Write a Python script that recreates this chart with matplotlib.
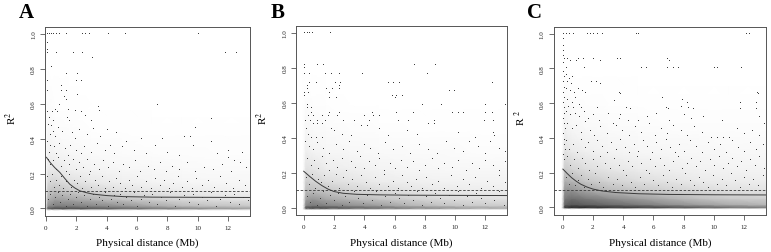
"""LD decay (R^2 vs physical distance) for three panels, A-C."""

import matplotlib.pyplot as plt
import numpy as np

plt.rcParams["font.family"] = ["Liberation Serif", "DejaVu Serif"]
plt.rcParams["mathtext.fontset"] = "stix"

# ---------------------------------------------------------------------------
# Plot settings
# ---------------------------------------------------------------------------
STYLE = {
    "fig_size":       (7.71, 2.53),
    "dpi":            100,
    "dot_color":      "#3c3c3c",
    "curve_color":    "#3a3a3a",
    "frame_color":    "#555555",
    "tick_size":      5,
    "label_size":     8,
    "letter_size":    15,
}

# ---------------------------------------------------------------------------
# Data
# ---------------------------------------------------------------------------

# background density of the dense point cloud (0 = white, 1 = black)
HAZE_X = [-0.05, 0.15, 0.6, 1.5, 3, 5, 7, 9, 11, 13.45]
HAZE_Y = [-0.01, 0.0, 0.015, 0.05, 0.1, 0.15, 0.22, 0.32, 0.45, 0.6, 0.8]

HAZE_A = [
    [0, 0, 0, 0, 0, 0, 0, 0, 0, 0],
    [0, 0.70, 0.75, 0.75, 0.72, 0.66, 0.60, 0.55, 0.50, 0.46],
    [0, 0.52, 0.58, 0.58, 0.55, 0.50, 0.44, 0.38, 0.35, 0.33],
    [0, 0.42, 0.48, 0.46, 0.42, 0.36, 0.31, 0.26, 0.23, 0.20],
    [0, 0.33, 0.36, 0.32, 0.27, 0.21, 0.17, 0.15, 0.13, 0.11],
    [0, 0.25, 0.27, 0.22, 0.17, 0.13, 0.10, 0.085, 0.075, 0.065],
    [0, 0.17, 0.17, 0.13, 0.10, 0.075, 0.065, 0.05, 0.045, 0.04],
    [0, 0.11, 0.09, 0.065, 0.045, 0.035, 0.03, 0.025, 0.02, 0.02],
    [0, 0.06, 0.035, 0.025, 0.015, 0.012, 0.008, 0.008, 0.008, 0.008],
    [0, 0.025, 0.012, 0.008, 0, 0, 0, 0, 0, 0],
    [0, 0, 0, 0, 0, 0, 0, 0, 0, 0],
]

HAZE_B = [
    [0, 0, 0, 0, 0, 0, 0, 0, 0, 0],
    [0, 0.75, 0.78, 0.76, 0.70, 0.64, 0.57, 0.52, 0.46, 0.43],
    [0, 0.56, 0.60, 0.56, 0.52, 0.47, 0.40, 0.35, 0.31, 0.30],
    [0, 0.47, 0.50, 0.45, 0.40, 0.35, 0.30, 0.25, 0.23, 0.21],
    [0, 0.37, 0.37, 0.33, 0.27, 0.23, 0.19, 0.16, 0.15, 0.14],
    [0, 0.30, 0.27, 0.23, 0.19, 0.15, 0.13, 0.11, 0.10, 0.10],
    [0, 0.21, 0.19, 0.15, 0.13, 0.10, 0.08, 0.07, 0.065, 0.065],
    [0, 0.13, 0.10, 0.075, 0.065, 0.05, 0.04, 0.04, 0.03, 0.03],
    [0, 0.065, 0.05, 0.04, 0.025, 0.02, 0.015, 0.015, 0.015, 0.015],
    [0, 0.025, 0.02, 0.015, 0.005, 0.005, 0, 0, 0, 0],
    [0, 0, 0, 0, 0, 0, 0, 0, 0, 0],
]

HAZE_C = [
    [0, 0, 0, 0, 0, 0, 0, 0, 0, 0],
    [0, 0.82, 0.86, 0.86, 0.83, 0.80, 0.76, 0.70, 0.63, 0.58],
    [0, 0.68, 0.73, 0.70, 0.66, 0.60, 0.53, 0.48, 0.43, 0.40],
    [0, 0.60, 0.64, 0.60, 0.54, 0.48, 0.42, 0.36, 0.32, 0.30],
    [0, 0.50, 0.50, 0.44, 0.38, 0.32, 0.28, 0.24, 0.20, 0.19],
    [0, 0.42, 0.40, 0.34, 0.28, 0.23, 0.19, 0.16, 0.15, 0.14],
    [0, 0.32, 0.28, 0.23, 0.18, 0.15, 0.13, 0.11, 0.10, 0.09],
    [0, 0.20, 0.16, 0.13, 0.10, 0.08, 0.07, 0.065, 0.055, 0.055],
    [0, 0.12, 0.08, 0.06, 0.045, 0.035, 0.03, 0.028, 0.028, 0.028],
    [0, 0.05, 0.025, 0.018, 0.012, 0.01, 0.01, 0.01, 0.01, 0.01],
    [0, 0, 0, 0, 0, 0, 0, 0, 0, 0],
]

# individual pairs (physical distance in Mb, R^2)
POINTS_A = [
    (0.05, 1.0), (0.2, 1.0), (0.35, 1.0), (0.5, 1.0), (0.65, 1.0), (0.85, 1.0),
    (1.35, 1.0), (2.4, 1.0), (2.6, 1.0), (2.85, 1.0), (4.1, 1.0), (5.2, 1.0), (10.0, 1.0),
    (0.05, 0.95), (0.07, 0.91), (0.07, 0.89), (0.7, 0.89), (1.76, 0.89), (2.4, 0.89),
    (11.8, 0.89), (12.5, 0.89), (3.05, 0.86), (0.37, 0.81), (1.32, 0.77), (2.06, 0.77),
    (0.07, 0.73), (1.98, 0.73), (2.3, 0.73), (1.03, 0.70), (0.05, 0.675), (1.0, 0.675),
    (1.3, 0.67), (1.2, 0.64), (2.05, 0.65), (1.3, 0.62), (0.9, 0.59), (3.45, 0.58),
    (7.3, 0.59), (0.6, 0.565), (1.45, 0.565), (1.9, 0.56), (0.1, 0.55), (0.4, 0.55),
    (0.75, 0.55), (2.3, 0.55), (0.2, 0.52), (1.4, 0.52), (10.9, 0.51), (0.5, 0.50),
    (1.5, 0.50), (3.0, 0.50), (2.6, 0.53), (3.5, 0.56),
    (3.1, 0.455), (4.0, 0.45), (9.8, 0.46), (0.15, 0.48), (0.35, 0.47), (0.8, 0.46),
    (1.1, 0.44), (1.7, 0.43), (2.2, 0.45), (2.7, 0.42), (0.25, 0.42), (0.6, 0.41),
    (6.3, 0.40), (7.65, 0.40), (9.1, 0.41), (9.5, 0.41), (4.6, 0.43), (5.3, 0.38),
    (1.9, 0.40), (0.45, 0.44), (3.6, 0.41),
    (9.7, 0.36), (10.9, 0.38), (0.1, 0.38), (0.3, 0.36), (0.55, 0.35), (0.9, 0.37),
    (1.25, 0.34), (1.6, 0.36), (2.0, 0.33), (2.5, 0.35), (3.0, 0.32), (3.4, 0.37),
    (3.9, 0.33), (4.5, 0.31), (5.0, 0.35), (5.8, 0.33), (6.6, 0.31), (7.2, 0.36),
    (8.0, 0.32), (8.8, 0.30), (12.0, 0.33), (12.9, 0.32), (0.2, 0.32), (0.7, 0.31),
    (1.45, 0.30), (2.3, 0.31), (4.2, 0.36), (11.3, 0.31),
    (0.15, 0.28), (0.3, 0.25), (0.5, 0.27), (0.65, 0.22), (0.8, 0.29), (1.0, 0.24),
    (1.2, 0.27), (1.35, 0.21), (1.55, 0.25), (1.8, 0.28), (2.0, 0.22), (2.2, 0.26),
    (2.45, 0.23), (2.7, 0.28), (2.9, 0.21), (3.2, 0.25), (3.5, 0.22), (3.8, 0.27),
    (4.1, 0.23), (4.4, 0.26), (4.8, 0.21), (5.1, 0.25), (5.5, 0.23), (5.9, 0.27),
    (6.2, 0.21), (6.7, 0.24), (7.1, 0.22), (7.5, 0.26), (7.9, 0.21), (8.3, 0.24),
    (8.8, 0.22), (9.3, 0.26), (9.8, 0.21), (10.4, 0.23), (11.0, 0.22), (11.6, 0.25),
    (12.2, 0.21), (12.8, 0.26), (13.2, 0.23), (12.0, 0.29), (12.4, 0.27),
    (0.1, 0.18), (0.25, 0.15), (0.4, 0.19), (0.55, 0.12), (0.7, 0.16), (0.85, 0.13),
    (1.0, 0.18), (1.15, 0.11), (1.3, 0.15), (1.5, 0.19), (1.65, 0.12), (1.85, 0.16),
    (2.05, 0.14), (2.25, 0.18), (2.4, 0.11), (2.6, 0.15), (2.85, 0.19), (3.0, 0.12),
    (3.25, 0.16), (3.45, 0.13), (3.7, 0.18), (3.9, 0.11), (4.15, 0.15), (4.4, 0.12),
    (4.6, 0.17), (4.9, 0.14), (5.2, 0.11), (5.45, 0.16), (5.7, 0.13), (6.0, 0.18),
    (6.3, 0.12), (6.6, 0.15), (6.9, 0.11), (7.2, 0.17), (7.5, 0.13), (7.8, 0.16),
    (8.1, 0.11), (8.4, 0.14), (8.7, 0.18), (9.0, 0.12), (9.3, 0.15), (9.6, 0.11),
    (9.9, 0.17), (10.3, 0.13), (10.7, 0.16), (11.1, 0.12), (11.5, 0.18), (11.9, 0.14),
    (12.3, 0.11), (12.7, 0.16), (13.1, 0.13),
    (0.15, 0.05), (0.3, 0.08), (0.5, 0.02), (0.6, 0.06), (0.8, 0.09), (0.95, 0.03),
    (1.1, 0.07), (1.3, 0.01), (1.45, 0.05), (1.6, 0.08), (1.8, 0.02), (2.0, 0.06),
    (2.15, 0.09), (2.35, 0.03), (2.5, 0.07), (2.7, 0.01), (2.9, 0.05), (3.1, 0.08),
    (3.3, 0.02), (3.5, 0.06), (3.7, 0.04), (3.9, 0.09), (4.1, 0.01), (4.3, 0.05),
    (4.5, 0.07), (4.7, 0.03), (4.9, 0.08), (5.1, 0.02), (5.3, 0.06), (5.6, 0.04),
    (5.8, 0.09), (6.0, 0.01), (6.3, 0.05), (6.5, 0.07), (6.8, 0.03), (7.0, 0.08),
    (7.3, 0.02), (7.6, 0.06), (7.9, 0.04), (8.2, 0.09), (8.5, 0.01), (8.8, 0.05),
    (9.1, 0.07), (9.4, 0.03), (9.7, 0.08), (10.0, 0.02), (10.3, 0.06), (10.6, 0.04),
    (10.9, 0.09), (11.2, 0.01), (11.5, 0.05), (11.8, 0.07), (12.1, 0.03), (12.4, 0.08),
    (12.7, 0.02), (13.0, 0.06), (13.3, 0.04),
]

POINTS_B = [
    (0.05, 1.0), (0.2, 1.0), (0.35, 1.0), (0.55, 1.0), (1.76, 1.0),
    (0.03, 0.82), (0.88, 0.82), (1.3, 0.82), (7.27, 0.82), (8.7, 0.82), (0.03, 0.80),
    (0.03, 0.765), (0.35, 0.765), (1.43, 0.765), (1.8, 0.765), (2.3, 0.765),
    (3.85, 0.765), (8.15, 0.765), (0.37, 0.717), (0.8, 0.717), (2.09, 0.717),
    (2.4, 0.717), (5.6, 0.717), (5.9, 0.717), (6.27, 0.717), (12.44, 0.717),
    (0.2, 0.70), (2.3, 0.70), (0.2, 0.68), (1.5, 0.68), (1.9, 0.68), (2.3, 0.68),
    (9.6, 0.67), (9.9, 0.67), (0.03, 0.66), (0.3, 0.66), (1.65, 0.66), (0.03, 0.64),
    (5.8, 0.64), (6.1, 0.64), (6.5, 0.64), (1.7, 0.627), (2.1, 0.627), (6.0, 0.627),
    (0.2, 0.59), (7.8, 0.59), (9.1, 0.59), (12.0, 0.59), (13.3, 0.59), (0.2, 0.57),
    (0.5, 0.57), (0.5, 0.545), (1.65, 0.545), (2.3, 0.545), (4.5, 0.545), (6.1, 0.545),
    (7.2, 0.545), (9.8, 0.545), (10.2, 0.545), (10.5, 0.545), (12.0, 0.545),
    (12.45, 0.545), (0.3, 0.525), (0.6, 0.525), (1.2, 0.525), (1.6, 0.525),
    (2.2, 0.525), (4.0, 0.525), (4.6, 0.525), (5.0, 0.525),
    (0.1, 0.497), (0.4, 0.497), (0.9, 0.497), (1.4, 0.497), (2.6, 0.497), (3.3, 0.497),
    (4.3, 0.497), (6.2, 0.497), (6.9, 0.497), (8.6, 0.497), (11.9, 0.497), (12.5, 0.497),
    (0.6, 0.48), (0.9, 0.48), (1.2, 0.48), (8.2, 0.48), (8.6, 0.48), (3.8, 0.47),
    (4.2, 0.47), (1.8, 0.45), (5.0, 0.45), (6.8, 0.44), (12.5, 0.43), (12.6, 0.41),
    (0.5, 0.40), (0.8, 0.40), (1.2, 0.40), (2.5, 0.42), (3.1, 0.41), (7.5, 0.42),
    (10.2, 0.43), (11.3, 0.40), (0.15, 0.45), (0.3, 0.42), (2.0, 0.44), (5.6, 0.41),
    (9.4, 0.38), (10.9, 0.38), (12.3, 0.38), (4.0, 0.36), (0.1, 0.38), (0.35, 0.35),
    (0.6, 0.33), (0.9, 0.37), (1.3, 0.34), (1.7, 0.31), (2.1, 0.36), (2.6, 0.33),
    (3.0, 0.38), (3.5, 0.32), (4.4, 0.34), (4.9, 0.31), (5.4, 0.37), (5.9, 0.33),
    (6.5, 0.35), (7.0, 0.31), (7.6, 0.36), (8.2, 0.33), (8.8, 0.31), (9.9, 0.34),
    (10.5, 0.32), (11.5, 0.35), (12.0, 0.31), (12.9, 0.34), (13.3, 0.32),
    (0.2, 0.28), (0.45, 0.24), (0.7, 0.27), (0.95, 0.22), (1.2, 0.29), (1.45, 0.25),
    (1.7, 0.21), (1.95, 0.27), (2.2, 0.23), (2.5, 0.28), (2.8, 0.21), (3.1, 0.26),
    (3.4, 0.23), (3.7, 0.29), (4.0, 0.22), (4.3, 0.26), (4.7, 0.24), (5.0, 0.28),
    (5.3, 0.21), (5.7, 0.25), (6.0, 0.22), (6.4, 0.27), (6.8, 0.23), (7.2, 0.26),
    (7.6, 0.21), (8.0, 0.24), (8.5, 0.28), (8.9, 0.22), (9.3, 0.25), (9.8, 0.23),
    (10.2, 0.27), (10.7, 0.21), (11.1, 0.25), (11.6, 0.22), (12.0, 0.27), (12.5, 0.24),
    (12.9, 0.21), (13.3, 0.26),
    (0.15, 0.17), (0.35, 0.13), (0.55, 0.19), (0.75, 0.11), (0.95, 0.16), (1.15, 0.14),
    (1.35, 0.18), (1.6, 0.12), (1.85, 0.15), (2.1, 0.19), (2.35, 0.11), (2.6, 0.17),
    (2.9, 0.13), (3.2, 0.16), (3.5, 0.12), (3.8, 0.18), (4.1, 0.14), (4.4, 0.11),
    (4.7, 0.17), (5.0, 0.13), (5.3, 0.19), (5.6, 0.12), (5.9, 0.15), (6.2, 0.11),
    (6.5, 0.18), (6.8, 0.14), (7.1, 0.12), (7.4, 0.16), (7.8, 0.11), (8.1, 0.17),
    (8.5, 0.13), (8.9, 0.15), (9.3, 0.11), (9.7, 0.18), (10.1, 0.12), (10.5, 0.16),
    (10.9, 0.13), (11.3, 0.17), (11.7, 0.11), (12.1, 0.15), (12.5, 0.12), (12.9, 0.18),
    (13.3, 0.14),
    (0.2, 0.06), (0.4, 0.03), (0.6, 0.08), (0.85, 0.01), (1.05, 0.05), (1.3, 0.09),
    (1.5, 0.02), (1.75, 0.07), (2.0, 0.04), (2.25, 0.08), (2.5, 0.01), (2.75, 0.06),
    (3.0, 0.03), (3.3, 0.09), (3.6, 0.05), (3.9, 0.02), (4.2, 0.07), (4.5, 0.04),
    (4.8, 0.09), (5.1, 0.01), (5.4, 0.06), (5.7, 0.03), (6.0, 0.08), (6.3, 0.05),
    (6.6, 0.02), (6.9, 0.07), (7.2, 0.04), (7.5, 0.09), (7.8, 0.01), (8.1, 0.06),
    (8.4, 0.03), (8.7, 0.08), (9.0, 0.05), (9.3, 0.02), (9.6, 0.07), (9.9, 0.04),
    (10.2, 0.09), (10.5, 0.01), (10.8, 0.06), (11.1, 0.03), (11.4, 0.08), (11.7, 0.05),
    (12.0, 0.02), (12.3, 0.07), (12.6, 0.04), (12.9, 0.09), (13.2, 0.01),
]

POINTS_C = [
    (0.05, 1.0), (0.25, 1.0), (0.45, 1.0), (0.7, 1.0), (1.6, 1.0), (1.8, 1.0),
    (2.0, 1.0), (2.3, 1.0), (2.6, 1.0), (4.85, 1.0), (5.0, 1.0), (12.1, 1.0), (12.3, 1.0),
    (0.02, 0.97), (0.03, 0.93), (0.02, 0.90), (0.04, 0.87), (0.05, 0.83), (0.03, 0.78),
    (0.06, 0.75), (0.02, 0.72), (0.08, 0.69), (0.04, 0.66), (0.10, 0.63), (0.03, 0.60),
    (0.07, 0.57), (0.12, 0.54), (0.05, 0.51), (0.09, 0.48), (0.15, 0.45), (0.04, 0.42),
    (0.10, 0.39), (0.06, 0.36), (0.13, 0.33), (0.03, 0.30), (0.08, 0.27),
    (0.1, 0.855), (0.3, 0.855), (1.05, 0.855), (1.35, 0.855), (2.0, 0.855), (3.6, 0.855),
    (3.8, 0.855), (6.9, 0.855), (7.0, 0.845), (0.5, 0.845), (0.9, 0.845), (2.5, 0.845),
    (0.2, 0.80), (1.4, 0.80), (5.2, 0.80), (5.5, 0.80), (6.9, 0.80), (7.3, 0.80),
    (7.6, 0.80), (10.0, 0.80), (10.2, 0.80), (11.75, 0.80),
    (0.2, 0.76), (0.45, 0.74), (0.6, 0.75), (0.3, 0.72), (0.55, 0.71), (1.9, 0.72),
    (2.2, 0.72), (2.5, 0.71), (0.25, 0.68), (0.5, 0.67), (0.75, 0.66), (1.0, 0.68),
    (1.3, 0.67), (1.5, 0.66), (3.7, 0.66), (3.8, 0.65), (12.85, 0.66), (12.9, 0.65),
    (0.3, 0.62), (0.6, 0.60), (0.85, 0.63), (1.1, 0.59), (3.4, 0.61), (6.55, 0.63),
    (7.9, 0.62), (8.2, 0.60), (11.7, 0.60), (12.8, 0.60),
    (0.35, 0.58), (0.7, 0.57), (1.2, 0.575), (2.3, 0.57), (4.2, 0.57), (4.45, 0.565),
    (6.8, 0.57), (6.95, 0.565), (7.8, 0.58), (8.3, 0.57), (8.6, 0.565), (11.7, 0.565),
    (12.75, 0.565),
    (0.2, 0.55), (0.5, 0.53), (0.8, 0.54), (1.1, 0.52), (1.4, 0.55), (1.7, 0.51),
    (2.0, 0.53), (2.4, 0.50), (3.0, 0.54), (3.7, 0.51), (3.8, 0.53), (4.3, 0.50),
    (5.0, 0.50), (5.6, 0.52), (6.2, 0.54), (7.0, 0.50), (8.0, 0.53), (8.5, 0.51),
    (9.3, 0.52), (10.5, 0.50), (13.0, 0.52),
    (0.3, 0.48), (0.6, 0.45), (0.9, 0.47), (1.2, 0.43), (1.5, 0.49), (1.8, 0.44),
    (2.1, 0.41), (2.5, 0.46), (2.9, 0.42), (3.3, 0.48), (3.5, 0.47), (3.9, 0.44),
    (4.4, 0.41), (4.8, 0.46), (5.2, 0.43), (5.7, 0.48), (6.1, 0.41), (6.5, 0.45),
    (6.9, 0.42), (7.3, 0.47), (7.8, 0.44), (8.2, 0.41), (8.7, 0.46), (9.2, 0.43),
    (9.8, 0.40), (10.2, 0.40), (10.6, 0.40), (11.0, 0.40), (11.5, 0.45), (12.0, 0.42),
    (12.5, 0.44), (13.0, 0.41), (13.3, 0.48),
    (0.25, 0.38), (0.45, 0.33), (0.7, 0.36), (0.95, 0.31), (1.2, 0.39), (1.45, 0.34),
    (1.7, 0.37), (2.0, 0.32), (2.3, 0.38), (2.6, 0.35), (2.9, 0.31), (3.2, 0.37),
    (3.5, 0.33), (3.8, 0.39), (4.1, 0.34), (4.4, 0.31), (4.7, 0.36), (5.0, 0.32),
    (5.3, 0.38), (5.6, 0.35), (5.9, 0.31), (6.2, 0.37), (6.5, 0.33), (6.8, 0.39),
    (7.1, 0.34), (7.4, 0.31), (7.7, 0.36), (8.0, 0.32), (8.4, 0.38), (8.8, 0.35),
    (9.2, 0.31), (9.6, 0.37), (10.0, 0.33), (10.4, 0.36), (10.8, 0.31), (11.2, 0.38),
    (11.6, 0.34), (12.0, 0.32), (12.4, 0.37), (12.8, 0.33), (13.2, 0.36),
    (0.3, 0.29), (0.5, 0.24), (0.75, 0.27), (1.0, 0.22), (1.25, 0.28), (1.5, 0.25),
    (1.75, 0.21), (2.0, 0.27), (2.25, 0.23), (2.5, 0.29), (2.8, 0.25), (3.1, 0.22),
    (3.4, 0.28), (3.7, 0.24), (4.0, 0.21), (4.3, 0.26), (4.6, 0.23), (4.9, 0.29),
    (5.2, 0.25), (5.5, 0.21), (5.8, 0.27), (6.1, 0.23), (6.4, 0.28), (6.7, 0.24),
    (7.0, 0.21), (7.3, 0.26), (7.6, 0.29), (7.9, 0.22), (8.2, 0.25), (8.5, 0.28),
    (8.8, 0.23), (9.1, 0.26), (9.4, 0.21), (9.7, 0.27), (10.0, 0.24), (10.3, 0.29),
    (10.6, 0.22), (10.9, 0.25), (11.2, 0.28), (11.5, 0.23), (11.8, 0.26), (12.1, 0.21),
    (12.4, 0.27), (12.7, 0.24), (13.0, 0.29), (13.3, 0.22),
    (0.2, 0.17), (0.4, 0.13), (0.6, 0.19), (0.8, 0.12), (1.0, 0.15), (1.2, 0.18),
    (1.4, 0.11), (1.65, 0.16), (1.9, 0.13), (2.15, 0.19), (2.4, 0.14), (2.7, 0.11),
    (3.0, 0.17), (3.3, 0.13), (3.6, 0.16), (3.9, 0.12), (4.2, 0.18), (4.5, 0.14),
    (4.8, 0.11), (5.1, 0.17), (5.4, 0.13), (5.7, 0.19), (6.0, 0.15), (6.3, 0.12),
    (6.6, 0.18), (6.9, 0.14), (7.2, 0.11), (7.5, 0.16), (7.8, 0.13), (8.1, 0.19),
    (8.4, 0.15), (8.7, 0.12), (9.0, 0.17), (9.3, 0.14), (9.6, 0.11), (9.9, 0.18),
    (10.2, 0.13), (10.5, 0.16), (10.8, 0.12), (11.1, 0.19), (11.4, 0.15), (11.7, 0.11),
    (12.0, 0.17), (12.3, 0.13), (12.6, 0.16), (12.9, 0.12), (13.2, 0.18),
]

# fitted decay curves and the 0.1 threshold
CURVE_A_X = [0.04, 0.3, 0.6, 0.92, 1.25, 1.58, 1.9, 2.24, 2.7, 3.12, 4.0, 5.1, 7.0, 10.0, 13.45]
CURVE_A_Y = [0.293, 0.262, 0.233, 0.207, 0.172, 0.139, 0.118, 0.101, 0.090, 0.082,
             0.074, 0.068, 0.065, 0.064, 0.063]
CURVE_B_X = [0.0, 0.4, 0.8, 1.2, 1.6, 2.0, 2.6, 3.5, 5.0, 7.0, 10.0, 13.43]
CURVE_B_Y = [0.21, 0.18, 0.152, 0.128, 0.108, 0.094, 0.084, 0.078, 0.075, 0.073, 0.072, 0.071]
CURVE_C_X = [0.02, 0.3, 0.6, 0.9, 1.2, 1.6, 2.0, 2.6, 3.5, 5.0, 7.0, 10.0, 13.45]
CURVE_C_Y = [0.22, 0.195, 0.17, 0.15, 0.133, 0.117, 0.105, 0.094, 0.085, 0.078,
             0.074, 0.072, 0.071]
THRESHOLD = 0.1

X_TICKS = [0, 2, 4, 6, 8, 10, 12]
Y_TICKS = [0.0, 0.2, 0.4, 0.6, 0.8, 1.0]
Y_TICK_LABELS = ["0.0", "0.2", "0.4", "0.6", "0.8", "1.0"]

# axes rectangles in figure fraction and x-limits per panel
PANELS = [
    ("A", POINTS_A, HAZE_A, CURVE_A_X, CURVE_A_Y, [0.0584, 0.143, 0.2659, 0.747], (-0.05, 13.45),
     r"R$^{\mathrm{2}}$"),
    ("B", POINTS_B, HAZE_B, CURVE_B_X, CURVE_B_Y, [0.3843, 0.145, 0.2733, 0.748], (-0.49, 13.43),
     r"R$^{\mathrm{2}}$"),
    ("C", POINTS_C, HAZE_C, CURVE_C_X, CURVE_C_Y, [0.7185, 0.148, 0.2754, 0.742], (-0.57, 13.45),
     r"R $^{\mathrm{2}}$"),
]


def draw_panel(fig, letter, points, haze, curve_x, curve_y, rect, xlim, ylabel):
    ax = fig.add_axes(rect)
    gx, gy = np.meshgrid(HAZE_X, HAZE_Y)
    ax.pcolormesh(gx, gy, np.array(haze), shading="gouraud", cmap="Greys",
                  vmin=0, vmax=1, zorder=0)
    px, py = np.array(points).T
    # one-pixel dots, like the original R plot
    ax.plot(px, py, ",", color=STYLE["dot_color"], zorder=2)
    ax.axhline(THRESHOLD, color=STYLE["curve_color"], linewidth=0.6,
               linestyle=(0, (3, 2)), zorder=3)
    ax.plot(curve_x, curve_y, color=STYLE["curve_color"], linewidth=0.7, zorder=4)

    ax.set_xlim(*xlim)
    ax.set_ylim(-0.042, 1.04)
    ax.set_xticks(X_TICKS)
    ax.set_yticks(Y_TICKS)
    ax.set_yticklabels(Y_TICK_LABELS, rotation=90, va="center")
    ax.tick_params(direction="out", length=3.5, width=0.6, pad=3,
                   colors=STYLE["frame_color"], labelcolor="#222222",
                   labelsize=STYLE["tick_size"])
    for spine in ax.spines.values():
        spine.set_color(STYLE["frame_color"])
        spine.set_linewidth(0.7)

    # labels placed in figure pixels to follow the original layout
    left_px = rect[0] * 771
    mid_px = (rect[0] + rect[2] / 2) * 771
    fig.text(mid_px / 771, 1 - 243 / 253, "Physical distance (Mb)",
             ha="center", va="center", fontsize=STYLE["label_size"])
    fig.text((left_px - 34) / 771, 1 - 118 / 253, ylabel, rotation=90,
             ha="center", va="center", fontsize=STYLE["label_size"])
    fig.text((left_px - 19) / 771, 1 - 12.5 / 253, letter, ha="center", va="center",
             fontsize=STYLE["letter_size"], fontweight="bold")


fig = plt.figure(figsize=STYLE["fig_size"], dpi=STYLE["dpi"])
for letter, pts, haze, cx, cy, rect, xlim, ylab in PANELS:
    draw_panel(fig, letter, pts, haze, cx, cy, rect, xlim, ylab)

fig.savefig("out.png", dpi=STYLE["dpi"])
